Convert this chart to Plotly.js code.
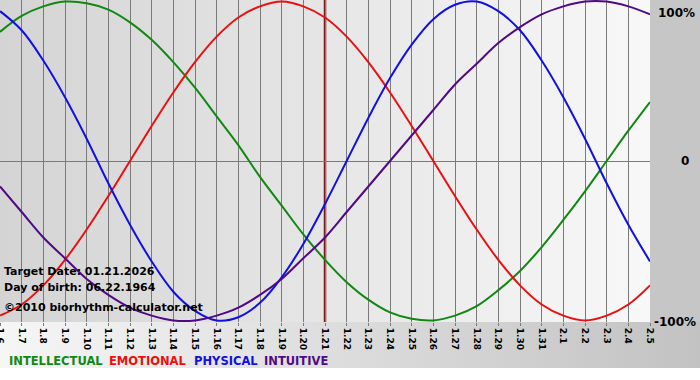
<!DOCTYPE html>
<html>
<head>
<meta charset="utf-8">
<script src="https://cdn.plot.ly/plotly-3.0.1.min.js"></script>
<style>
  html, body { margin: 0; padding: 0; background: #ffffff; }
  #wrap { position: relative; width: 700px; height: 380px; overflow: hidden; background: #ffffff; }
  .bg { position: absolute; }
  #bgPlot { left: 0; top: 0; width: 650px; height: 322px; background: linear-gradient(to right, #d4d4d4, #f8f8f8); }
  #bgRight { left: 650px; top: 0; width: 50px; height: 322px; background: #c6c6c6; }
  #bgBottom { left: 0; top: 322px; width: 700px; height: 46px; background: linear-gradient(to right, #f6f6f6, #c2c2c2); }
  #chart { position: absolute; left: 0; top: 0; width: 700px; height: 380px; }
</style>
</head>
<body>
<div id="wrap">
  <div class="bg" id="bgPlot"></div>
  <div class="bg" id="bgRight"></div>
  <div class="bg" id="bgBottom"></div>
  <div id="chart"></div>
</div>
<script>
// Day labels (month.day), 1/6 .. 2/5
const dayLabels = ["1.6","1.7","1.8","1.9","1.10","1.11","1.12","1.13","1.14","1.15","1.16","1.17","1.18","1.19","1.20","1.21","1.22","1.23","1.24","1.25","1.26","1.27","1.28","1.29","1.30","1.31","2.1","2.2","2.3","2.4","2.5"];

// Series values (fraction of 100%), one per day
const intellectual = [0.81,0.91,0.97,1.00,0.99,0.95,0.87,0.76,0.62,0.46,0.28,0.10,-0.10,-0.28,-0.46,-0.62,-0.76,-0.87,-0.95,-0.99,-1.00,-0.97,-0.91,-0.81,-0.69,-0.54,-0.37,-0.19,0.00,0.19,0.37];
const emotional = [-0.97,-0.90,-0.78,-0.62,-0.43,-0.22,0.00,0.22,0.43,0.62,0.78,0.90,0.97,1.00,0.97,0.90,0.78,0.62,0.43,0.22,0.00,-0.22,-0.43,-0.62,-0.78,-0.90,-0.97,-1.00,-0.97,-0.90,-0.78];
const physical = [0.94,0.82,0.63,0.40,0.14,-0.14,-0.40,-0.63,-0.82,-0.94,-1.00,-0.98,-0.89,-0.73,-0.52,-0.27,0.00,0.27,0.52,0.73,0.89,0.98,1.00,0.94,0.82,0.63,0.40,0.14,-0.14,-0.40,-0.63];
const intuitive = [-0.16,-0.32,-0.48,-0.61,-0.74,-0.84,-0.92,-0.97,-1.00,-1.00,-0.97,-0.92,-0.84,-0.74,-0.61,-0.48,-0.32,-0.16,0.00,0.16,0.32,0.48,0.61,0.74,0.84,0.92,0.97,1.00,1.00,0.97,0.92];

const seriesNames = ["INTELLECTUAL","EMOTIONAL","PHYSICAL","INTUITIVE"];
const seriesColors = ["#118811","#e81010","#1010e0","#4f0a84"];
const targetIndex = dayLabels.indexOf("1.21");
const infoLines = ["Target Date: 01.21.2026","Day of birth: 06.22.1964","\u00a92010 biorhythm-calculator.net"];
const percentLabels = ["100%","0","-100%"];

const xIdx = dayLabels.map((_, i) => i);
const allSeries = [intellectual, emotional, physical, intuitive];
const traces = allSeries.map((vals, k) => ({
  type: "scatter", mode: "lines", x: xIdx, y: vals, name: seriesNames[k],
  line: { color: seriesColors[k], width: 2, shape: "spline", smoothing: 1 },
  hoverinfo: "skip"
}));

const FONT = "DejaVu Sans, Verdana, sans-serif";
const annotations = [];
const infoY = [271, 287, 307];
infoLines.forEach((t, i) => annotations.push({
  text: t, xref: "paper", yref: "paper", x: 2 / 650, y: 1 - infoY[i] / 322,
  xanchor: "left", yanchor: "middle", showarrow: false,
  font: { family: FONT, size: 11, color: "#000000", weight: "bold" }
}));
// legend row (one label per series)
const legendX = [7, 107, 192, 262];
seriesNames.forEach((n, k) => annotations.push({
  text: n, xref: "paper", yref: "paper", x: legendX[k] / 650, y: 1 - 361 / 322,
  xanchor: "left", yanchor: "middle", showarrow: false,
  font: { family: FONT, size: 11.5, color: seriesColors[k], weight: "bold" }
}));
// right axis percentages
const pctPos = [[676, 13], [685, 161], [675, 322]];
percentLabels.forEach((t, i) => annotations.push({
  text: t, xref: "paper", yref: "paper", x: pctPos[i][0] / 650, y: 1 - pctPos[i][1] / 322,
  xanchor: "center", yanchor: "middle", showarrow: false,
  font: { family: FONT, size: 12, color: "#000000", weight: "bold" }
}));

const layout = {
  width: 700, height: 380,
  margin: { l: 0, r: 50, t: 0, b: 58, pad: 0 },
  paper_bgcolor: "rgba(0,0,0,0)", plot_bgcolor: "rgba(0,0,0,0)",
  showlegend: false,
  font: { family: FONT, size: 9, color: "#000000" },
  xaxis: {
    range: [0, dayLabels.length - 1], tickvals: xIdx, ticktext: dayLabels,
    tickangle: 90, showgrid: true, gridcolor: "#7a7a7a", gridwidth: 1,
    zeroline: false, showline: false, ticks: "outside", ticklen: 3, tickcolor: "#7a7a7a",
    tickfont: { family: FONT, size: 9, color: "#000000", weight: "bold" },
    ticklabeloverflow: "allow",
    fixedrange: true
  },
  yaxis: {
    range: [-1.01, 1.01], showgrid: false, zeroline: true, zerolinecolor: "#7a7a7a", zerolinewidth: 1,
    showticklabels: false, ticks: "", showline: false, fixedrange: true
  },
  shapes: [{
    type: "line", xref: "x", yref: "paper", x0: targetIndex, x1: targetIndex, y0: 0, y1: 1,
    line: { color: "#7a1a1a", width: 2.5 }, layer: "below"
  }],
  annotations: annotations
};

Plotly.newPlot("chart", traces, layout, { staticPlot: true, displayModeBar: false });
</script>
</body>
</html>
